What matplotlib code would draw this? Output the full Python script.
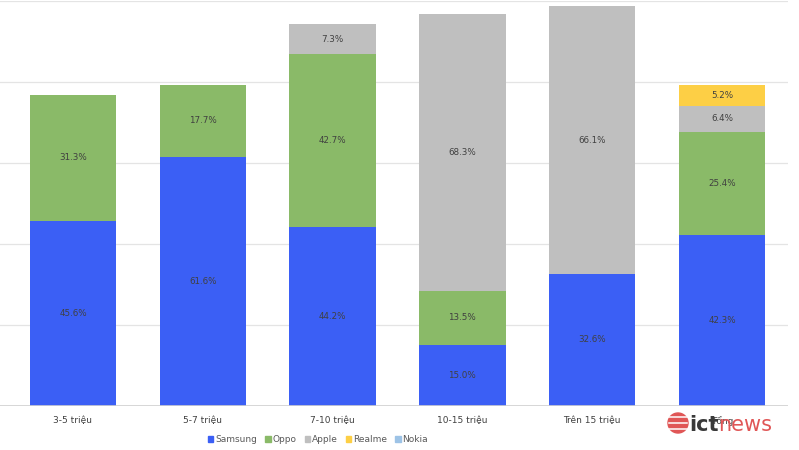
import matplotlib
matplotlib.use("Agg")
import matplotlib.pyplot as plt
import numpy as np
from matplotlib.patches import Rectangle, Circle

categories = ["3-5 triệu", "5-7 triệu", "7-10 triệu", "10-15 triệu", "Trên 15 triệu", "Tổng"]
series_names = ["Samsung", "Oppo", "Apple", "Realme", "Nokia"]
samsung = [45.6, 61.6, 44.2, 15.0, 32.6, 42.3]
oppo = [31.3, 17.7, 42.7, 13.5, 0.0, 25.4]
apple = [0.0, 0.0, 7.3, 68.3, 66.1, 6.4]
realme = [0.0, 0.0, 0.0, 0.0, 0.0, 5.2]
nokia = [0.0, 0.0, 0.0, 0.0, 0.0, 0.0]

values = [samsung, oppo, apple, realme, nokia]
colors = ["#3b5ff5", "#8aba68", "#bfbfbf", "#fdcf45", "#9dc3e6"]

W, H = 799, 450
fig = plt.figure(figsize=(W / 100, H / 100), dpi=100)
fig.patch.set_facecolor("white")

left_px, right_px, top_px, bot_px = 0, 788, 1, 406
ax = fig.add_axes([left_px / W, 1 - bot_px / H, (right_px - left_px) / W, (bot_px - top_px) / H])

x = np.arange(len(categories))
step = 129.8
ax.set_xlim(-73 / step, 5 + 66 / step)
ax.set_ylim(0, 100)

bottom = np.zeros(len(categories))
for name, vals, col in zip(series_names, values, colors):
    vals = np.array(vals)
    ax.bar(x, vals, width=0.665, bottom=bottom, color=col, label=name, zorder=2, linewidth=0)
    for xi, v, b in zip(x, vals, bottom):
        if v > 0:
            ax.text(xi, b + v / 2, f"{v:.1f}%", ha="center", va="center",
                    fontsize=6.3, color="#404040", zorder=3)
    bottom += vals

for gy in [20, 40, 60, 80, 100]:
    ax.axhline(gy, color="#e4e4e4", linewidth=0.9, zorder=1)
ax.axhline(0, color="#d0d0d0", linewidth=1.2, zorder=3)

for s in ax.spines.values():
    s.set_visible(False)
ax.set_yticks([])
ax.set_xticks(x)
ax.set_xticklabels(categories, fontsize=6.5, color="#404040")
ax.tick_params(axis="x", length=0, pad=7)

handles = [Rectangle((0, 0), 1, 1, color=c) for c in colors]
fig.legend(handles, series_names, loc="center", bbox_to_anchor=(318 / W, 1 - 440 / H),
           ncol=5, frameon=False, fontsize=6.5, handlelength=0.6, handleheight=0.6,
           handletextpad=0.2, columnspacing=0.9, labelcolor="#595959")

# ictnews logo watermark (drawn over the last category label, as in the source image)
logo_ax = fig.add_axes([0, 0, 1, 1], facecolor="none")
logo_ax.set_xlim(0, W)
logo_ax.set_ylim(H, 0)
logo_ax.axis("off")
logo_ax.add_patch(Circle((678, 423), 10, color="#e05656", zorder=5))
for yy in [417, 423, 429]:
    logo_ax.plot([669, 687], [yy, yy], color="white", linewidth=1.1, zorder=6)
logo_ax.text(689, 425, "ict", fontsize=15, fontweight="bold", color="#3a3a3a",
             ha="left", va="center", zorder=6)
logo_ax.text(718, 425, "news", fontsize=15, color="#e05656",
             ha="left", va="center", zorder=6)

fig.savefig("out.png", dpi=100, facecolor="white")
